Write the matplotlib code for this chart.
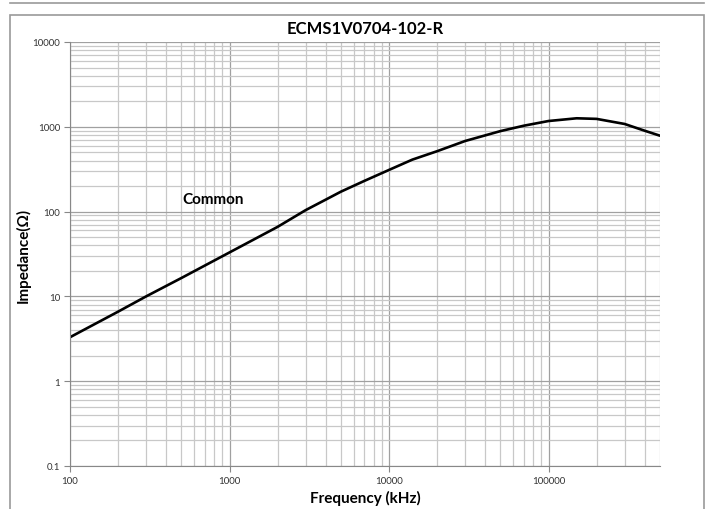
import matplotlib
matplotlib.use('Agg')
from matplotlib import pyplot as plt
from matplotlib.lines import Line2D
from matplotlib.patches import Rectangle
from matplotlib.ticker import LogLocator, FixedLocator, NullFormatter
import numpy as np

# values
freq_khz = [100, 200, 300, 500, 1000, 2000, 3000, 4000, 5000, 7000, 10000, 14000,
            20000, 30000, 50000, 70000, 100000, 150000, 200000, 300000, 400000, 500000]
impedance = [3.3, 6.6, 10, 16.5, 33, 66, 104, 138, 172, 230, 310, 410,
             515, 680, 890, 1030, 1170, 1260, 1240, 1080, 900, 785]
x_ticks = [100, 1000, 10000, 100000]
x_tick_labels = ['100', '1000', '10000', '100000']
y_ticks = [0.1, 1, 10, 100, 1000, 10000]
y_tick_labels = ['0.1', '1', '10', '100', '1000', '10000']
title = 'ECMS1V0704-102-R'
series_label = 'Common'

plt.rcParams['font.family'] = ['Lato', 'DejaVu Sans']

fig = plt.figure(figsize=(7.11, 5.10), dpi=100)
ax = fig.add_axes([70 / 711, 43 / 510, 590 / 711, 424 / 510])

# outer frames
fig.add_artist(Line2D([10 / 711, 704 / 711], [1 - 4 / 510, 1 - 4 / 510],
                      transform=fig.transFigure, color='#9a9a9a', lw=1.2))
fig.add_artist(Rectangle((10 / 711, -0.01), 694 / 711, 1 - 16 / 510 + 0.01,
                         transform=fig.transFigure, fill=False,
                         edgecolor='#9a9a9a', lw=1.2))

ax.plot(freq_khz, impedance, color='black', lw=1.9, solid_capstyle='round',
        solid_joinstyle='round')

ax.set_xscale('log')
ax.set_yscale('log')
ax.set_xlim(100, 500000)
ax.set_ylim(0.1, 10000)

ax.xaxis.set_major_locator(FixedLocator(x_ticks))
ax.set_xticklabels(x_tick_labels)
ax.yaxis.set_major_locator(FixedLocator(y_ticks))
ax.set_yticklabels(y_tick_labels)
ax.xaxis.set_minor_locator(LogLocator(base=10, subs=np.arange(2, 10), numticks=20))
ax.yaxis.set_minor_locator(LogLocator(base=10, subs=np.arange(2, 10), numticks=20))
ax.xaxis.set_minor_formatter(NullFormatter())
ax.yaxis.set_minor_formatter(NullFormatter())

ax.grid(which='major', color='#a0a0a0', lw=0.9)
ax.grid(which='minor', color='#c8c8c8', lw=0.9)
ax.set_axisbelow(True)

ax.tick_params(which='major', direction='out', length=4, width=0.8,
               color='#888888', labelsize=7, labelcolor='#333333', pad=3)
ax.tick_params(which='minor', length=0)
ax.tick_params(axis='x', pad=3)
for side in ['left', 'bottom']:
    ax.spines[side].set_color('#888888')
for side in ['top', 'right']:
    ax.spines[side].set_visible(False)

fig.text(365 / 711, 1 - 29 / 510, title, fontsize=12, fontweight='bold',
         ha='center', va='center')
fig.text(365 / 711, 1 - 498 / 510, 'Frequency (kHz)', fontsize=11,
         fontweight='bold', ha='center', va='center')
fig.text(23 / 711, 1 - 255 / 510, 'Impedance(Ω)', fontsize=11,
         fontweight='bold', ha='center', va='center', rotation=90)

ax.text(505, 140, series_label, fontsize=11, fontweight='bold', ha='left', va='center')

fig.savefig('out.png', dpi=100)
